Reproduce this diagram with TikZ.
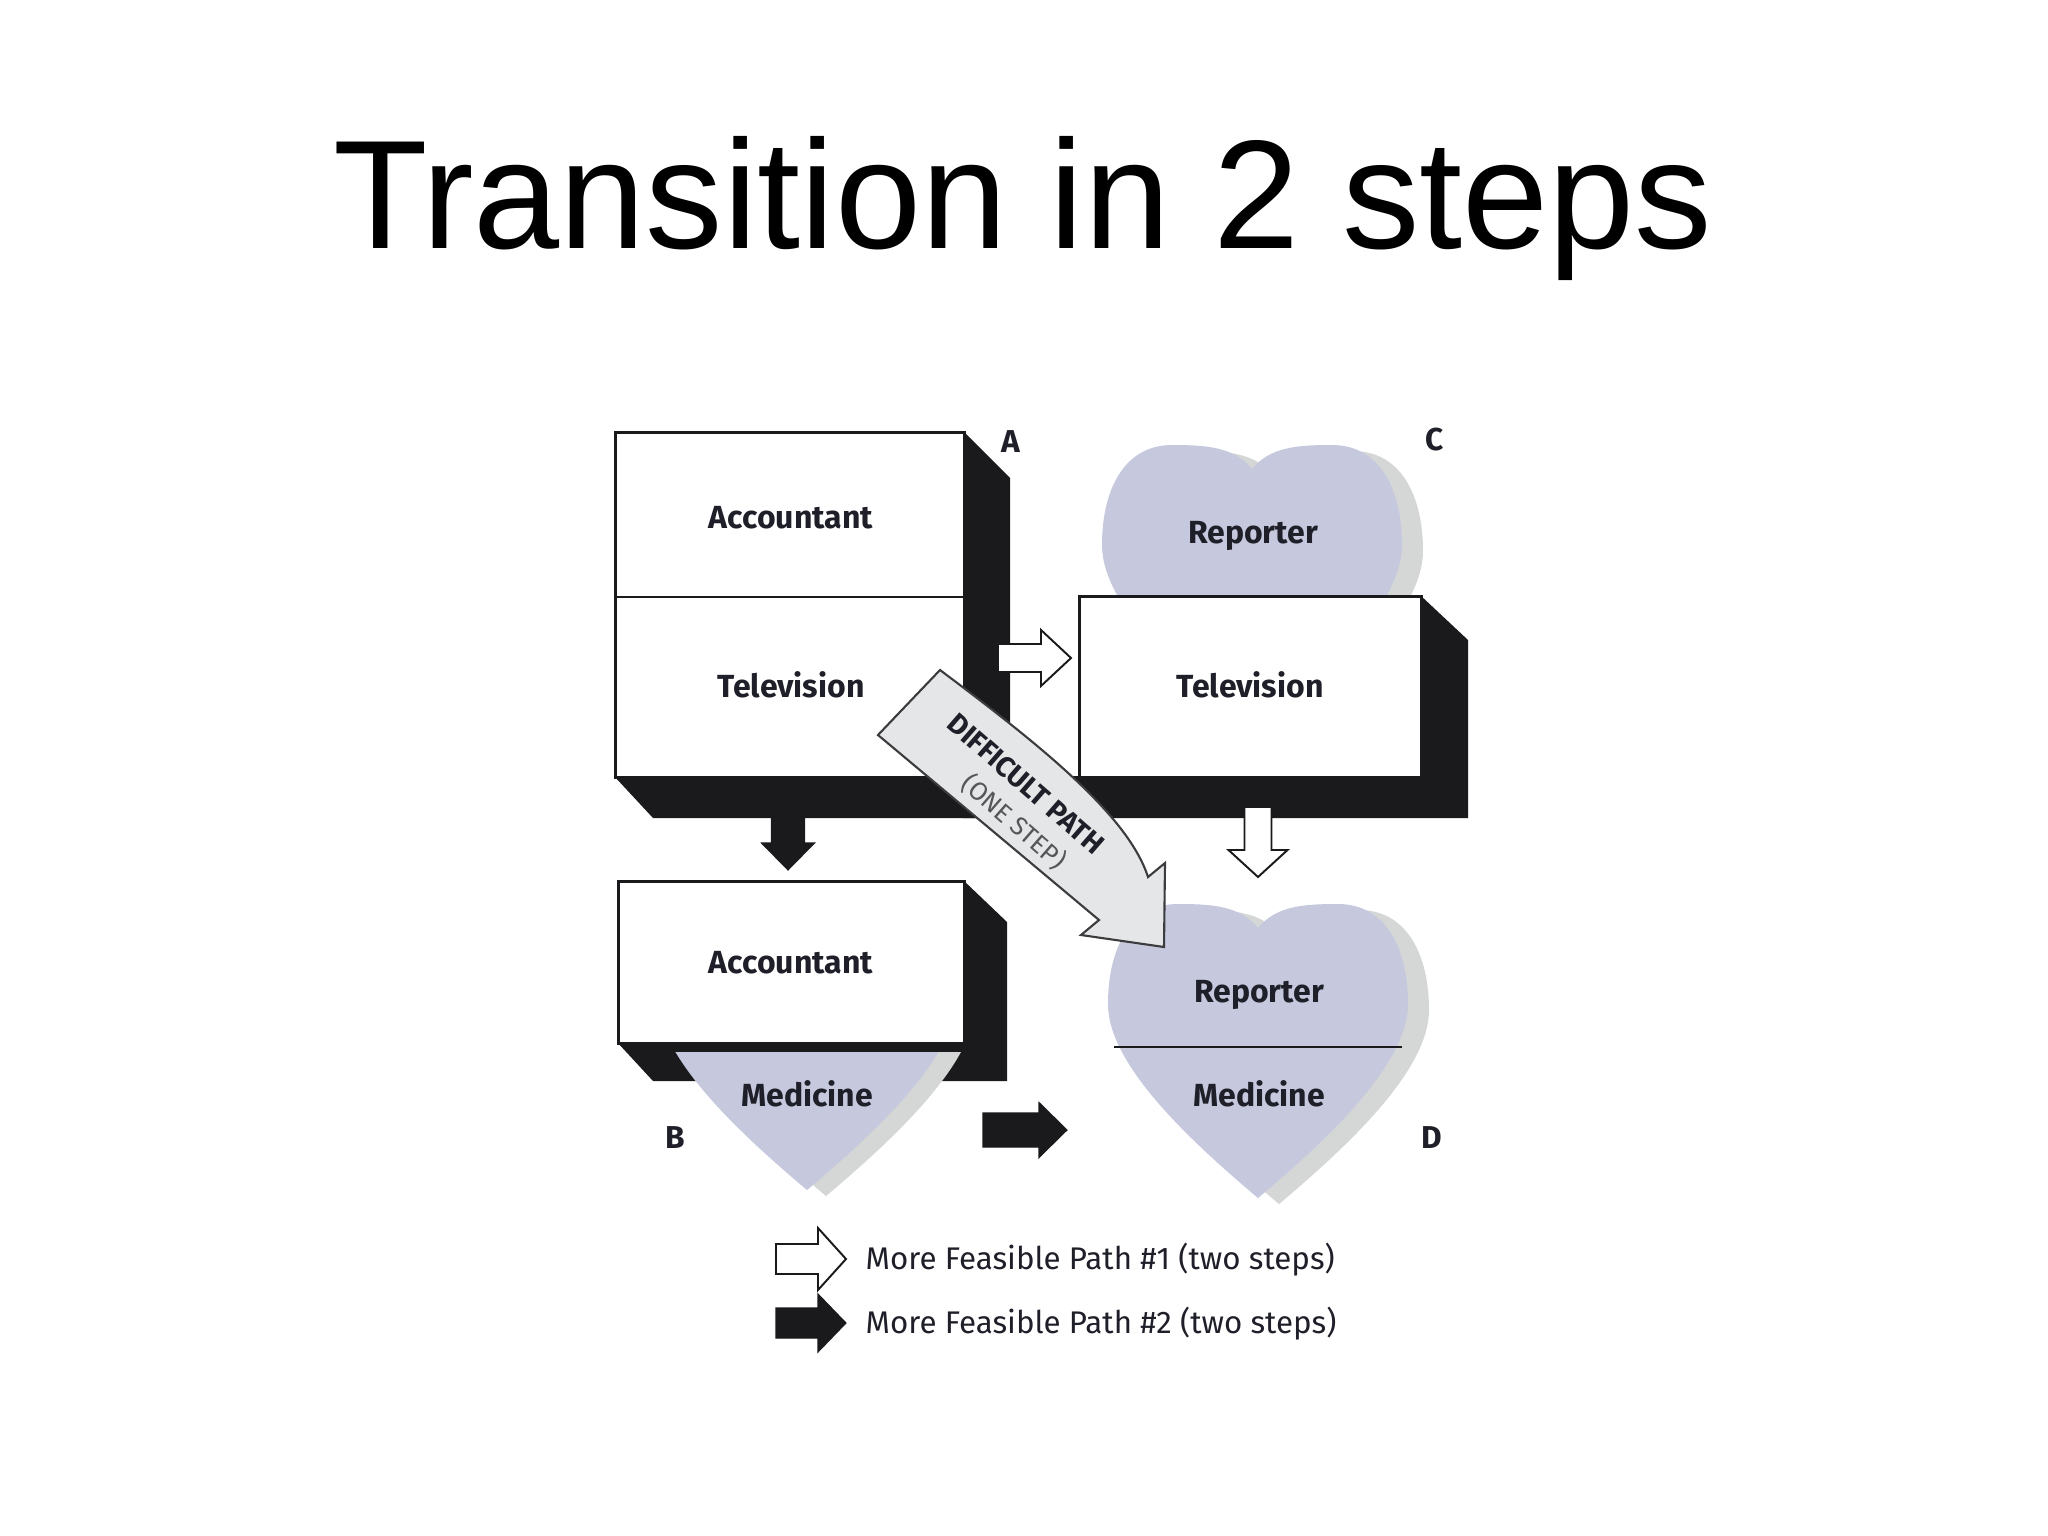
\documentclass[tikz,border=0pt]{standalone}
\usepackage{fontspec}
\setmainfont{Liberation Sans}
\newfontfamily\dinfont{Fira Sans}
\definecolor{lav}{RGB}{198,201,222}
\definecolor{hshade}{RGB}{213,214,214}
\definecolor{ink}{RGB}{26,26,28}
\definecolor{pathfill}{RGB}{229,230,231}
\definecolor{txt}{RGB}{30,31,40}
\definecolor{soft}{RGB}{85,85,90}
\tikzset{
  pics/barrow/.style n args={4}{code={
    \path[pic actions] (0,-#2) -- ({#1-#4},-#2) -- ({#1-#4},-#3) -- (#1,0) -- ({#1-#4},#3) -- ({#1-#4},#2) -- (0,#2) -- cycle;}},
  pics/heart/.style={code={
    \path[pic actions] (0,24) .. controls (-18,2) and (-45,0) .. (-80,0)
      .. controls (-128,0) and (-150,45) .. (-150,100)
      .. controls (-150,160) and (-70,235) .. (0,294)
      .. controls (70,235) and (150,160) .. (150,100)
      .. controls (150,45) and (128,0) .. (80,0)
      .. controls (45,0) and (18,2) .. (0,24) -- cycle;}},
  whitearrow/.style={draw=ink, fill=white, line width=0.55pt, line join=miter},
  blackarrow/.style={draw=ink, fill=ink, line width=0.3pt, line join=miter},
  boxstyle/.style={draw=ink, fill=white, line width=0.75pt, inner sep=0pt, anchor=north west},
  shadowfill/.style={fill=ink},
  lbl/.style={font=\dinfont\bfseries\fontsize{9.1}{11}\selectfont, text=txt, anchor=base, inner sep=0pt},
  corner/.style={font=\dinfont\bfseries\fontsize{9}{10}\selectfont, text=txt, anchor=base, inner sep=0pt},
  leg/.style={font=\dinfont\fontsize{8.9}{10}\selectfont, text=txt, anchor=base west, inner sep=0pt},
}
\begin{document}
\begin{tikzpicture}[x=0.01cm, y=-0.01cm]
\useasboundingbox[fill=white] (0,0) rectangle (2048,1536);
% title
\node[font=\fontsize{44}{50}\selectfont, anchor=base, inner sep=0pt] (title) at (1023,248) {Transition in 2 steps};
% heart C (behind box C)
\pic[fill=hshade] at (1273,451) {heart};
\pic[fill=lav] at (1252,445) {heart};
% extrusion shadows
\fill[shadowfill] (963,431) -- (1010,478) -- (1010,818) -- (963,818) -- cycle;
\fill[shadowfill] (614,776) -- (1420,776) -- (1420,595) -- (1468,640) -- (1468,818) -- (653,818) -- cycle;
\fill[shadowfill] (617,1042) -- (963,1042) -- (963,880) -- (1007,922) -- (1007,1081) -- (653,1081) -- cycle;
% boxes
\node[boxstyle, minimum width=3.49cm, minimum height=3.45cm] (boxA) at (614,431) {};
\draw[ink, line width=0.7pt] (614,597) coordinate (divAl) -- (963,597) coordinate (divAr);
\node[boxstyle, minimum width=3.42cm, minimum height=1.81cm] (boxC) at (1078,595) {};
\node[boxstyle, minimum width=3.46cm, minimum height=1.62cm] (boxB) at (617,880) {};
% heart B (lower part only)
\begin{scope}
  \clip (560,1052) rectangle (1100,1300);
  \pic[fill=hshade] at (826,902) {heart};
  \pic[fill=lav] at (807,896) {heart};
\end{scope}
% heart D
\pic[fill=hshade] at (1279,910) {heart};
\pic[fill=lav] at (1258,904) {heart};
\draw[ink, line width=0.6pt] (1114,1047) coordinate (divDl) -- (1402,1047) coordinate (divDr);
% block arrows
\pic[whitearrow] at (998,658) {barrow={73}{14}{28}{30}};
\pic[whitearrow, rotate=-90] at (1258,807) {barrow={70}{13.5}{29.5}{27}};
\pic[blackarrow, rotate=-90] at (788,812) {barrow={58}{16.5}{26.5}{27}};
\pic[blackarrow] at (983,1130) {barrow={84}{17}{27.5}{28}};
% difficult path
\draw[draw=ink!85, fill=pathfill, line width=0.6pt, line join=miter]
  (940,670) .. controls (1040,745) and (1128,815) .. (1148,877)
  -- (1165,863) -- (1164,947) -- (1081,935) -- (1099,920) -- (878,735) -- cycle;
\node[font=\dinfont\bfseries\fontsize{8.1}{9}\selectfont, text=txt, rotate=-41, inner sep=0pt] (diff) at (1026,784) {DIFFICULT PATH};
\node[font=\dinfont\fontsize{7.3}{9}\selectfont, text=soft, rotate=-41, inner sep=0pt] (one) at (1014,822) {(ONE STEP)};
% labels
\node[lbl] (tA1) at (791,528) {Accountant};
\node[lbl] (tA2) at (791,697) {Television};
\node[lbl] (tC1) at (1253,543) {Reporter};
\node[lbl] (tC2) at (1250,697) {Television};
\node[lbl] (tB1) at (791,973) {Accountant};
\node[lbl] (tB2) at (807,1106) {Medicine};
\node[lbl] (tD1) at (1259,1002) {Reporter};
\node[lbl] (tD2) at (1259,1106) {Medicine};
\node[corner] (cA) at (1011,452) {A};
\node[corner] (cC) at (1435,450) {C};
\node[corner] (cB) at (675,1148) {B};
\node[corner] (cD) at (1432,1148) {D};
% legend
\pic[whitearrow] at (776,1259) {barrow={70}{15}{31}{28}};
\pic[blackarrow] at (776,1323) {barrow={70}{15}{29}{28}};
\node[leg] (leg1) at (865,1269) {More Feasible Path \#1 (two steps)};
\node[leg] (leg2) at (865,1333) {More Feasible Path \#2 (two steps)};
\end{tikzpicture}
\end{document}
